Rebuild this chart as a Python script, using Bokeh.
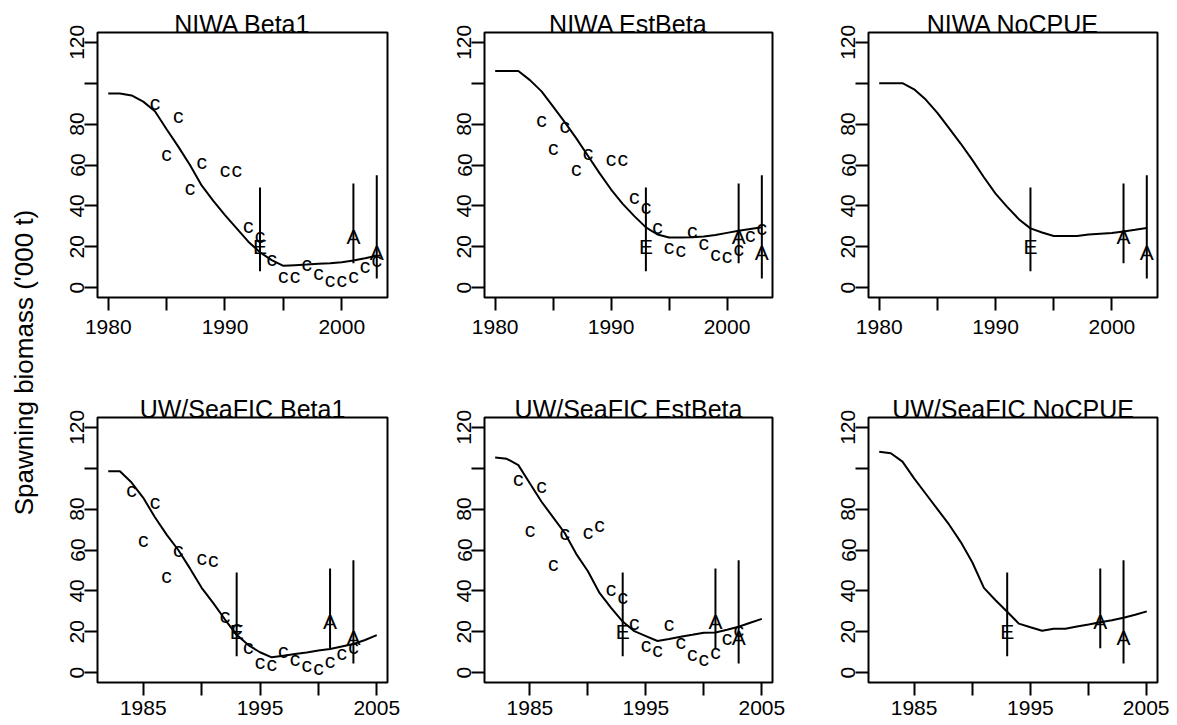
from bokeh.plotting import figure
from bokeh.layouts import row, column
from bokeh.models import Range1d, FixedTicker, Title, ColumnDataSource
from bokeh.core.properties import value
from bokeh.embed import file_html
from bokeh.resources import INLINE

FONT = "Liberation Sans"

# ---------------- data ----------------
years_top = list(range(1980, 2004))
years_bot = list(range(1982, 2006))

niwa_beta1 = [95, 95, 94, 91, 86.3, 77.5, 69, 60, 50, 42.5, 35.5, 29, 22.5, 17.3,
              13.5, 10.7, 11, 11.3, 11.7, 12, 12.4, 13.3, 14.4, 15.6]
niwa_estbeta = [106, 106, 106, 101.5, 96, 88.5, 81, 73, 64.5, 56, 48, 41, 35, 29.5,
                26, 24.5, 24.5, 24.7, 25, 25.8, 26.8, 27.8, 28.7, 29.6]
niwa_nocpue = [100, 100, 100, 97, 92, 85.5, 78, 70.5, 62.5, 54, 46, 39.5, 33.5, 29,
               27, 25.3, 25.3, 25.3, 26, 26.4, 26.8, 27.5, 28.3, 29.2]

uw_beta1 = [98.5, 98.5, 93, 85.5, 76, 67.5, 60, 51, 41.5, 34, 26, 18.5, 13.5, 10,
            7.5, 8.3, 9.1, 9.9, 10.8, 11.6, 12.8, 14, 16, 18.4]
uw_estbeta = [105.2, 104.6, 101.5, 92.5, 83.6, 76, 68.3, 58, 49.6, 39, 31.7, 25,
              20.3, 17.9, 15.5, 16.5, 17.6, 18.5, 19.5, 19.7, 21, 22.5, 24.4, 26.3]
uw_nocpue = [108, 107.3, 103.2, 95, 87.5, 80, 72.5, 64, 54, 41.5, 35.4, 29.8, 24,
             22.2, 20.5, 21.5, 21.5, 22.6, 23.6, 24.7, 25.6, 26.9, 28.3, 30]

cpue_years = [1984, 1985, 1986, 1987, 1988, 1990, 1991, 1992, 1993, 1994, 1995,
              1996, 1997, 1998, 1999, 2000, 2001, 2002, 2003]
niwa_beta1_cpue = [90.7, 65.7, 84.2, 49.0, 61.7, 57.6, 57.6, 30.2, 25.7, 14.3, 5.9,
                   5.9, 11.9, 7.5, 3.8, 3.8, 5.9, 10.7, 14.0]
niwa_estbeta_cpue = [82.2, 68.8, 79.3, 58.5, 66.2, 63.4, 63.4, 44.6, 39.7, 29.9, 20.1,
                     18.5, 27.8, 22.1, 16.9, 15.5, 19.3, 25.8, 29.4]
uw_beta1_cpue = [89.6, 65.2, 83.9, 47.7, 60.3, 56.3, 55.5, 28.1, 22.1, 12.9, 5.6,
                 4.7, 10.7, 6.7, 3.8, 2.6, 5.9, 10.0, 12.9]
uw_estbeta_cpue = [95.1, 69.9, 91.4, 53.3, 68.6, 69.1, 72.7, 41.0, 37.1, 24.7, 13.8,
                   11.4, 24.0, 15.4, 9.4, 7.0, 10.5, 17.1, 21.0]

abs_years = [1993, 2001, 2003]
abs_labels = ["E", "A", "A"]
abs_est = [20, 25, 17]
abs_lo = [8, 12, 4.5]
abs_hi = [49, 51, 55]

y_ticks = [0, 20, 40, 60, 80, 100, 120]
y_hidden = [100]
x_ticks_top = [1980, 1985, 1990, 1995, 2000]
x_hidden_top = [1985, 1995]
x_ticks_bot = [1985, 1990, 1995, 2000, 2005]
x_hidden_bot = [1990, 2000]

ylabel = "Spawning biomass ('000 t)"


def panel(title, years, biomass, cpue, xr, xticks, xhidden, frame_w, frame_h,
          mb_l, mb_r, mb_t, mb_b, x_standoff):
    p = figure(width=mb_l + frame_w + mb_r, height=mb_t + frame_h + mb_b,
               x_range=Range1d(xr[0], xr[1]), y_range=Range1d(-4.8, 124.8),
               output_backend="svg", toolbar_location=None,
               min_border_left=mb_l, min_border_right=mb_r,
               min_border_top=mb_t, min_border_bottom=mb_b)
    p.grid.visible = False
    p.outline_line_color = "black"
    p.outline_line_width = 2
    p.outline_line_alpha = 1.0

    p.title.text = title
    p.title.align = "center"
    p.title.text_font = FONT
    p.title.text_font_size = "25px"
    p.title.text_font_style = "normal"
    p.title.text_color = "black"
    p.title.standoff = -10

    p.line(years, biomass, line_color="black", line_width=2)
    if cpue is not None:
        src = ColumnDataSource(dict(x=cpue_years, y=cpue, t=["c"] * len(cpue)))
        p.text(x="x", y="y", text="t", source=src, text_font=value(FONT),
               text_font_size="21px", text_align="center",
               text_baseline="middle", text_color="black")
    p.segment(abs_years, abs_lo, abs_years, abs_hi, line_color="black", line_width=2)
    asrc = ColumnDataSource(dict(x=abs_years, y=abs_est, t=abs_labels))
    p.text(x="x", y="y", text="t", source=asrc, text_font=value(FONT),
           text_font_size="21px", text_align="center", text_baseline="middle",
           text_color="black")

    xa = p.xaxis[0]
    xa.ticker = FixedTicker(ticks=xticks)
    xa.major_label_overrides = {t: ("" if t in xhidden else str(t)) for t in xticks}
    xa.axis_line_color = None
    xa.major_tick_line_color = "black"
    xa.major_tick_line_width = 2
    xa.major_tick_out = 13
    xa.major_tick_in = 0
    xa.minor_tick_line_color = None
    xa.major_label_text_font = FONT
    xa.major_label_text_font_size = "21px"
    xa.major_label_text_color = "black"
    xa.major_label_standoff = x_standoff

    ya = p.yaxis[0]
    ya.ticker = FixedTicker(ticks=y_ticks)
    ya.major_label_overrides = {t: ("" if t in y_hidden else str(t)) for t in y_ticks}
    ya.axis_line_color = None
    ya.major_tick_line_color = "black"
    ya.major_tick_line_width = 2
    ya.major_tick_out = 13
    ya.major_tick_in = 0
    ya.minor_tick_line_color = None
    ya.major_label_text_font = FONT
    ya.major_label_text_font_size = "21px"
    ya.major_label_text_color = "black"
    ya.major_label_orientation = "parallel"
    ya.major_label_standoff = 0
    return p


XR_TOP = (1979.08, 2003.92)
XR_BOT = (1981.08, 2005.92)

p1 = panel("NIWA Beta1", years_top, niwa_beta1, niwa_beta1_cpue, XR_TOP, x_ticks_top, x_hidden_top,
           290, 265, 57, 40, 32, 60, 9)
p2 = panel("NIWA EstBeta", years_top, niwa_estbeta, niwa_estbeta_cpue, XR_TOP, x_ticks_top, x_hidden_top,
           288, 265, 57, 39, 32, 60, 9)
p3 = panel("NIWA NoCPUE", years_top, niwa_nocpue, None, XR_TOP, x_ticks_top, x_hidden_top,
           289, 265, 57, 12, 32, 60, 9)
p4 = panel("UW/SeaFIC Beta1", years_bot, uw_beta1, uw_beta1_cpue, XR_BOT, x_ticks_bot, x_hidden_bot,
           290, 265, 57, 40, 60, 42, 5)
p5 = panel("UW/SeaFIC EstBeta", years_bot, uw_estbeta, uw_estbeta_cpue, XR_BOT, x_ticks_bot, x_hidden_bot,
           288, 265, 57, 39, 60, 42, 5)
p6 = panel("UW/SeaFIC NoCPUE", years_bot, uw_nocpue, None, XR_BOT, x_ticks_bot, x_hidden_bot,
           289, 265, 57, 12, 60, 42, 5)

# narrow figure that only carries the shared y-axis label (as a left-side title)
yl = figure(width=40, height=724, x_axis_type=None, y_axis_type=None,
            output_backend="svg", toolbar_location=None,
            min_border_left=38, min_border_right=0, min_border_top=0, min_border_bottom=0)
yl.grid.visible = False
yl.outline_line_color = None
yl.title.standoff = 0
yl.add_layout(Title(text=ylabel, align="center", text_font=FONT, text_font_size="26px",
                    text_font_style="normal", text_color="black", standoff=0), "left")

layout = row(yl, column(row(p1, p2, p3), row(p4, p5, p6)))

with open("out.html", "w") as f:
    f.write(file_html(layout, INLINE))
